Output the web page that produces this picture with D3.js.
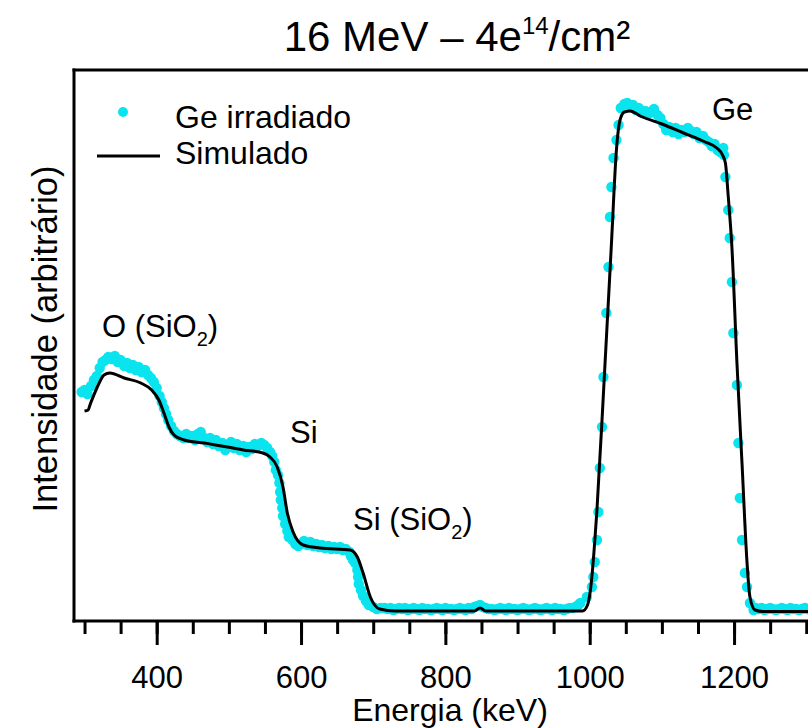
<!DOCTYPE html>
<html><head><meta charset="utf-8">
<script src="https://cdn.jsdelivr.net/npm/d3@7/dist/d3.min.js"></script>
<style>
body{margin:0;background:#fff}
svg{display:block}
text{font-family:"Liberation Sans",Arial,Helvetica,sans-serif;fill:#000}
</style>
</head><body>
<svg id="chart" width="808" height="728"></svg>
<script>
// ---- data ----
const majorTicks = [400, 600, 800, 1000, 1200];
const minorTicks = [300, 350, 400, 450, 500, 550, 600, 650, 700, 750, 800, 850, 900, 950, 1000, 1050, 1100, 1150, 1200, 1250, 1300];

// Simulado (black line): energy (keV), intensity (arb.)
const simEnergy = [300, 305, 308, 313, 319, 327, 335, 355, 378, 393, 403, 410, 417, 424, 438, 466, 520, 547, 557, 567, 575, 581, 589, 603, 626, 668, 678, 686, 696, 709, 730, 840, 848, 856, 990, 997, 1001, 1010, 1020, 1030, 1037, 1042, 1048, 1056, 1070, 1100, 1130, 1160, 1176, 1184, 1188, 1192, 1197, 1204, 1211, 1218, 1222, 1229, 1240, 1340];
const simCounts = [2010, 2020, 2080, 2170, 2270, 2370, 2390, 2340, 2290, 2220, 2120, 1990, 1850, 1770, 1720, 1690, 1620, 1590, 1550, 1450, 1250, 990, 800, 670, 640, 620, 550, 390, 150, 30, 10, 10, 40, 10, 10, 70, 220, 1020, 2320, 3670, 4620, 4920, 5000, 5010, 4960, 4880, 4790, 4700, 4640, 4570, 4490, 4150, 3650, 2490, 1490, 490, 150, 20, 5, 5];

// Ge irradiado (cyan points): energy (keV), intensity (arb.)
const expEnergy = [296, 300, 304, 309, 313, 317, 321, 325, 329, 333, 338, 342, 346, 350, 355, 359, 363, 367, 371, 375, 379, 384, 388, 392, 396, 400, 404, 407, 410, 413, 416, 420, 424, 428,
  432, 437, 441, 445, 449, 453, 457, 461, 466, 470, 474, 478, 482, 486, 491, 495, 499, 503, 507, 511, 515, 520, 524, 528, 532, 536, 540, 545, 549, 553, 557, 560, 563, 565,
  568, 570, 571, 572, 574, 575, 578, 581, 583, 588, 592, 596,
  600, 604, 609, 613, 617, 621, 625, 629, 633, 638, 642, 646, 650, 654, 658, 662, 667, 669, 672,
  675, 678, 679, 680, 683, 686, 690, 694, 700, 705, 710,
  716, 720, 724, 728, 732, 736, 740, 744, 748, 752, 756, 760, 764, 768, 772, 776, 780, 784, 788, 792, 796, 800, 804, 808, 812, 816, 820, 824, 828, 832, 836, 840, 844, 848,
  852, 856, 860, 864, 868, 872, 876, 880, 884, 888, 892, 896, 900, 904, 908, 912, 916, 920, 924, 928, 932, 936, 940, 944, 948, 952, 956, 960, 964, 968, 972, 976, 980, 984,
  987, 996, 1003, 1005, 1007, 1010, 1012, 1014, 1017, 1019, 1023, 1026, 1028, 1030, 1033, 1037, 1040,
  1043, 1048, 1052, 1056, 1060, 1064, 1068, 1073, 1077, 1081, 1085, 1089, 1094, 1098, 1102, 1106, 1110, 1115, 1119, 1123, 1127, 1131, 1136, 1140, 1144, 1148, 1152, 1157, 1161, 1165, 1169, 1173, 1177, 1181,
  1185, 1186, 1188, 1192, 1194, 1197, 1199, 1204, 1206, 1208, 1211, 1215, 1218, 1222, 1227,
  1230, 1234, 1238, 1242, 1246, 1250, 1254, 1258, 1262, 1266, 1270, 1274, 1278, 1282, 1286, 1290, 1294, 1298, 1302, 1306, 1310, 1314];
const expCounts = [2200, 2220, 2180, 2260, 2320, 2360, 2440, 2500, 2520, 2550, 2530, 2560, 2500, 2520, 2460, 2490, 2440, 2470, 2420, 2450, 2400, 2420, 2370, 2340, 2300, 2240, 2160, 2100, 2040, 1980, 1920, 1860, 1810, 1780,
  1760, 1740, 1780, 1740, 1760, 1720, 1780, 1800, 1740, 1700, 1740, 1680, 1720, 1660, 1690, 1620, 1670, 1700, 1640, 1680, 1620, 1660, 1600, 1650, 1630, 1680, 1660, 1690, 1670, 1640, 1600, 1560, 1500, 1420,
  1370, 1290, 1200, 1120, 1040, 960, 880, 810, 750, 720, 680, 660,
  680, 710, 670, 700, 660, 680, 650, 670, 640, 660, 630, 650, 630, 650, 620, 630, 600, 560, 520,
  490, 420, 350, 280, 220, 160, 110, 70, 50, 30, 40,
  40, 30, 40, 20, 30, 40, 30, 40, 20, 30, 40, 30, 20, 40, 30, 30, 20, 30, 40, 30, 20, 40, 30, 30, 20, 30, 40, 30, 20, 40, 30, 50, 60, 70,
  50, 40, 30, 30, 20, 30, 40, 30, 20, 40, 30, 30, 20, 30, 40, 30, 20, 30, 40, 30, 20, 30, 40, 30, 20, 40, 30, 30, 20, 30, 40, 40, 50, 70,
  90, 150, 250, 350, 500, 720, 1000, 1440, 1850, 2350, 2990, 3450, 3950, 4250, 4540, 4720, 4870,
  5040, 5080, 5090, 5060, 5070, 5020, 5040, 4990, 5010, 4980, 5000, 5030, 4970, 4940, 4880, 4820, 4850, 4800, 4840, 4780, 4820, 4800, 4840, 4810, 4780, 4800, 4740, 4760, 4720, 4700, 4660, 4680, 4620, 4600,
  4640, 4570, 4350, 4020, 3740, 3300, 2790, 2270, 1690, 1140, 720, 390, 250, 90, 20,
  40, 30, 40, 20, 30, 40, 30, 20, 30, 40, 30, 20, 40, 30, 30, 20, 30, 40, 30, 20, 30, 40];

const titleMain = "16 MeV \u2013 4e", titleSup = "14", titleEnd = "/cm\u00B2";
const xLabel = "Energia (keV)", yLabel = "Intensidade (arbitr\u00E1rio)";
const legendLabels = ["Ge irradiado", "Simulado"];

// ---- drawing ----
const svg = d3.select("#chart");
const W = 808, H = 728;
const plotLeft = 74, plotTop = 70, plotBottom = 621;
const x = d3.scaleLinear().domain([285, 1340]).range([73.7, 835.1]);
const y = d3.scaleLinear().domain([-90, 5420]).range([plotBottom, plotTop]);
const cyan = "#0ae4ee";

svg.append("rect").attr("width", W).attr("height", H).attr("fill", "#fff");

// measured points
const exp = expEnergy.map((e, i) => [e, expCounts[i]]);
svg.append("g").selectAll("circle").data(exp).join("circle")
  .attr("cx", d => x(d[0])).attr("cy", d => y(d[1])).attr("r", 5.2).attr("fill", cyan);

// simulated line
const sim = simEnergy.map((e, i) => [e, simCounts[i]]);
svg.append("path").datum(sim)
  .attr("d", d3.line().x(d => x(d[0])).y(d => y(d[1])).curve(d3.curveMonotoneX))
  .attr("fill", "none").attr("stroke", "#000").attr("stroke-width", 3).attr("stroke-linejoin", "round");

// frame: left and top lines
svg.append("line").attr("x1", plotLeft).attr("x2", plotLeft).attr("y1", plotTop - 1.5).attr("y2", plotBottom + 1.5)
  .attr("stroke", "#000").attr("stroke-width", 3);
svg.append("line").attr("x1", plotLeft - 1.5).attr("x2", W + 10).attr("y1", plotTop).attr("y2", plotTop)
  .attr("stroke", "#000").attr("stroke-width", 3);

// x axis: minor and major ticks
const minorAxis = d3.axisBottom(x).tickValues(minorTicks).tickSize(13).tickSizeOuter(0).tickFormat("");
const gMinor = svg.append("g").attr("transform", `translate(0,${plotBottom})`).call(minorAxis);
gMinor.select(".domain").remove();
gMinor.selectAll(".tick line").attr("stroke", "#000").attr("stroke-width", 3);

const majorAxis = d3.axisBottom(x).tickValues(majorTicks).tickSize(24).tickSizeOuter(0).tickPadding(20).tickFormat(d3.format("d"));
const gMajor = svg.append("g").attr("transform", `translate(0,${plotBottom})`).call(majorAxis);
gMajor.select(".domain").attr("stroke", "#000").attr("stroke-width", 3).attr("d", `M${plotLeft - 1.5},0H${W + 10}`);
gMajor.selectAll(".tick line").attr("stroke", "#000").attr("stroke-width", 3);
gMajor.selectAll(".tick text").attr("font-size", 31).attr("font-family", '"Liberation Sans",Arial,sans-serif')
  .attr("fill", "#000").attr("dy", null).attr("y", 67);

// axis titles
svg.append("text").attr("x", 450).attr("y", 721).attr("text-anchor", "middle").attr("font-size", 32).text(xLabel);
svg.append("text").attr("transform", "translate(57,339) rotate(-90)").attr("text-anchor", "middle")
  .attr("font-size", 34.5).text(yLabel);

// title
const t = svg.append("text").attr("x", 457).attr("y", 51).attr("text-anchor", "middle").attr("font-size", 42);
t.append("tspan").text(titleMain);
t.append("tspan").attr("font-size", 24).attr("dy", -17).text(titleSup);
t.append("tspan").attr("dy", 17).text(titleEnd);

// annotations
function label(px, py, main, sub, tail) {
  const tx = svg.append("text").attr("x", px).attr("y", py).attr("font-size", 31);
  tx.append("tspan").text(main);
  if (sub) {
    tx.append("tspan").attr("font-size", 20).attr("dy", 9).text(sub);
    tx.append("tspan").attr("dy", -9).text(tail);
  }
}
label(102, 337, "O (SiO", "2", ")");
label(290, 443, "Si");
label(353, 530, "Si (SiO", "2", ")");
label(712, 120, "Ge");

// legend
svg.append("circle").attr("cx", 123).attr("cy", 112).attr("r", 5).attr("fill", cyan);
svg.append("text").attr("x", 175).attr("y", 128).attr("font-size", 32).text(legendLabels[0]);
svg.append("line").attr("x1", 97).attr("x2", 160).attr("y1", 156).attr("y2", 156).attr("stroke", "#000").attr("stroke-width", 3);
svg.append("text").attr("x", 175).attr("y", 164).attr("font-size", 32).text(legendLabels[1]);
</script>
</body></html>
